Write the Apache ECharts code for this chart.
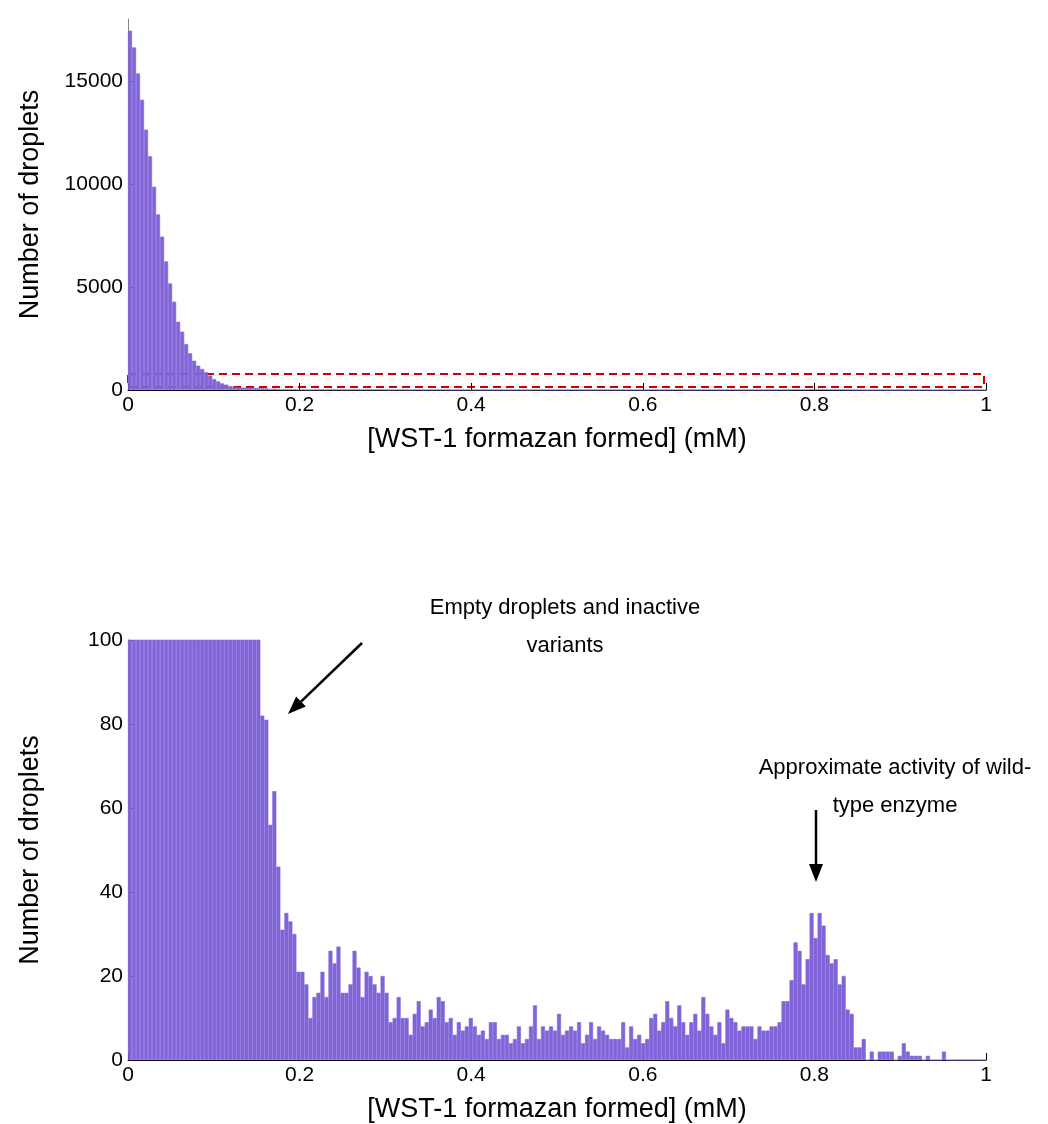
<!DOCTYPE html>
<html>
<head>
<meta charset="utf-8">
<script src="https://cdn.jsdelivr.net/npm/echarts@6/dist/echarts.min.js"></script>
<style>
  html, body { margin: 0; padding: 0; background: #fff; }
  #main { width: 1048px; height: 1124px; }
</style>
</head>
<body>
<div id="main"></div>
<script>
// histogram counts, 215 bins over 0..1 mM
var headCounts = [17430, 16620, 15360, 14080, 12630, 11340, 9860, 8520, 7440, 6240,
  5170, 4280, 3310, 2830, 2230, 1780, 1420, 1180, 1020, 860, 700, 530, 420, 320, 260,
  190, 150, 130, 115, 110, 106, 103, 101];
var lowCounts = [82, 81, 56, 64, 46, 31, 35, 33, 30, 21, 21, 18, 10, 15, 16, 21, 15, 26, 23, 27,
  16, 16, 18, 26, 22, 15, 21, 20, 18, 16, 20, 16, 9, 10, 15, 10, 10, 6, 11, 14];
var midCounts = [8, 9, 12, 10, 15, 14, 9, 10, 6, 9, 7, 8, 10, 8, 6, 7, 5, 9, 9, 5,
  6, 6, 4, 5, 8, 4, 5, 8, 13, 5, 8, 7, 8, 7, 11, 6, 7, 8, 7, 9,
  4, 6, 9, 5, 8, 7, 6, 5, 5, 5, 9, 3, 8, 5, 6, 4, 5, 10, 11, 7,
  9, 14, 10, 8, 13, 9, 6, 9, 11];
var peakCounts = [7, 15, 11, 8, 6, 9, 4, 12, 10, 9, 7, 8, 8, 8, 5, 8, 7, 7, 8, 8,
  9, 14, 14, 19, 28, 26, 18, 24, 35, 29, 35, 32, 25, 23, 24, 18, 20, 12, 11, 3,
  3, 5, 0, 2, 0, 2, 2, 2, 2, 0, 1, 4, 2, 1, 1, 1, 0, 1, 0, 0, 0, 2, 0, 0, 0, 0, 0, 0, 0, 0, 0, 0];
var xTicks = [0, 0.2, 0.4, 0.6, 0.8, 1];
var topYTicks = [0, 5000, 10000, 15000];
var bottomYTicks = [0, 20, 40, 60, 80, 100];

var counts = headCounts.concat(lowCounts, midCounts, peakCounts).slice(0, 215);
var bins = counts.map(function (c, i) { return i; });

var font = 'Liberation Sans, Arial, sans-serif';
var barColor = '#8064D8';

function valueXAxis(gridIndex) {
  return {
    type: 'value', gridIndex: gridIndex, min: 0, max: 1, interval: 0.2,
    name: '[WST-1 formazan formed] (mM)', nameLocation: 'middle', nameGap: 36,
    nameTextStyle: { fontFamily: font, fontSize: 27, color: '#000' },
    axisLine: { lineStyle: { color: '#000', width: 1 } },
    axisTick: { inside: true, length: 7, lineStyle: { color: '#000' } },
    axisLabel: { fontFamily: font, fontSize: 21, color: '#000', margin: 5,
      formatter: function (v) { return String(Math.round(v * 10) / 10); } },
    splitLine: { show: false }
  };
}
function catXAxis(gridIndex) {
  return { type: 'category', gridIndex: gridIndex, data: bins, show: false, boundaryGap: true };
}
function yAxis(gridIndex, max, interval) {
  return {
    type: 'value', gridIndex: gridIndex, min: 0, max: max, interval: interval,
    name: 'Number of droplets', nameLocation: 'middle', nameGap: 84,
    nameTextStyle: { fontFamily: font, fontSize: 27, color: '#000' },
    axisLine: { show: true, lineStyle: { color: '#888', width: 1 } },
    axisTick: { show: true, inside: true, length: 7, lineStyle: { color: '#000' } },
    axisLabel: { fontFamily: font, fontSize: 21, color: '#000', margin: 5,
      showMaxLabel: max === 100,
      formatter: function (v) { return String(v); } },
    splitLine: { show: false }
  };
}

function arrow(x1, y1, x2, y2) {
  var ang = Math.atan2(y2 - y1, x2 - x1), L = 18, W = 7;
  var bx = x2 - L * Math.cos(ang), by = y2 - L * Math.sin(ang);
  var px = -Math.sin(ang) * W, py = Math.cos(ang) * W;
  return [
    { type: 'line', shape: { x1: x1, y1: y1, x2: bx, y2: by }, style: { stroke: '#000', lineWidth: 2.5 } },
    { type: 'polygon', shape: { points: [[x2, y2], [bx + px, by + py], [bx - px, by - py]] },
      style: { fill: '#000' } }
  ];
}
function label(x, y, text) {
  return { type: 'text', x: x, y: y,
    style: { text: text, font: '22px ' + font, fill: '#000', align: 'center', verticalAlign: 'middle' } };
}

var graphics = [
  { type: 'rect', shape: { x: 128, y: 374, width: 856, height: 13 },
    style: { fill: 'none', stroke: '#c00', lineWidth: 2, lineDash: [8, 5] } },
  label(565, 608, 'Empty droplets and inactive'),
  label(565, 646, 'variants'),
  label(895, 768, 'Approximate activity of wild-'),
  label(895, 806, 'type enzyme')
].concat(arrow(362, 643, 288, 714), arrow(816, 810, 816, 882));

var barStyle = { color: barColor, borderColor: barColor, borderWidth: 0.6 };

var chart = echarts.init(document.getElementById('main'));
chart.setOption({
  animation: false,
  backgroundColor: '#fff',
  grid: [
    { left: 128, right: 62, top: 19, height: 371 },
    { left: 128, right: 62, top: 640, height: 420 }
  ],
  xAxis: [valueXAxis(0), catXAxis(0), valueXAxis(1), catXAxis(1)],
  yAxis: [yAxis(0, 18000, 5000), yAxis(1, 100, 20)],
  series: [
    { type: 'bar', xAxisIndex: 1, yAxisIndex: 0, data: counts, barCategoryGap: '0%',
      itemStyle: barStyle },
    { type: 'bar', xAxisIndex: 3, yAxisIndex: 1, data: counts, barCategoryGap: '0%',
      clip: true, itemStyle: barStyle }
  ],
  graphic: graphics
});
</script>
</body>
</html>
